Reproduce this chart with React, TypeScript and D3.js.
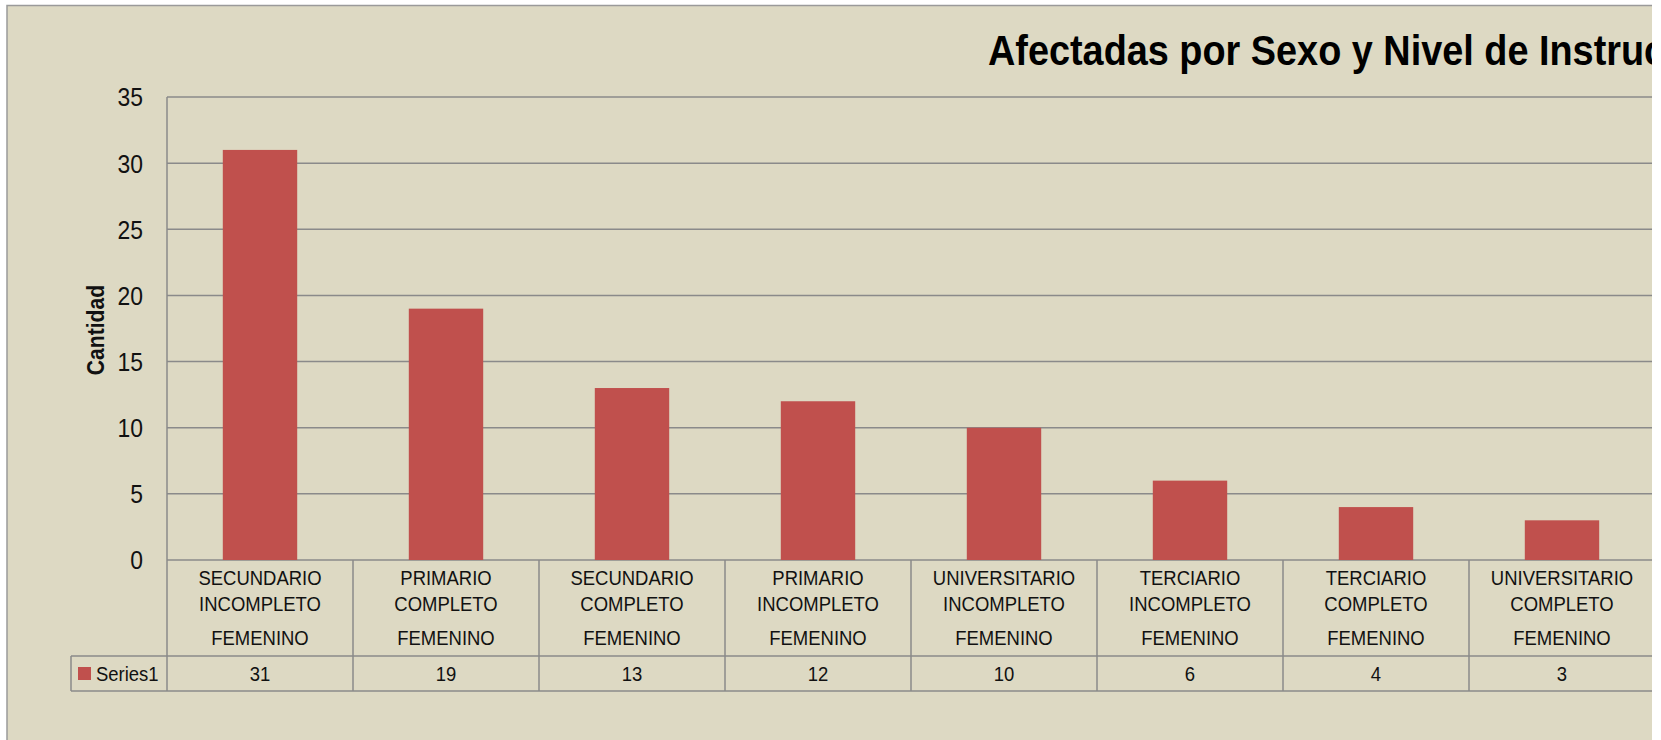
import React from 'react'
import * as d3 from 'd3'

const nivel = [
  ['SECUNDARIO', 'INCOMPLETO'],
  ['PRIMARIO', 'COMPLETO'],
  ['SECUNDARIO', 'COMPLETO'],
  ['PRIMARIO', 'INCOMPLETO'],
  ['UNIVERSITARIO', 'INCOMPLETO'],
  ['TERCIARIO', 'INCOMPLETO'],
  ['TERCIARIO', 'COMPLETO'],
  ['UNIVERSITARIO', 'COMPLETO'],
]
const sexo = ['FEMENINO', 'FEMENINO', 'FEMENINO', 'FEMENINO', 'FEMENINO', 'FEMENINO', 'FEMENINO', 'FEMENINO']
const values = [31, 19, 13, 12, 10, 6, 4, 3]
const seriesName = 'Series1'
const title = 'Afectadas por Sexo y Nivel de Instrucción'
const yTitle = 'Cantidad'

const W = 1652
const H = 740
const left = 167
const right = 1655
const top = 97
const bottom = 560
const rowTop = 656
const rowBottom = 691
const legendLeft = 71

const bg = '#DDD9C3'
const barColor = '#C0504D'
const grid = '#8a8a8a'
const font = '"Liberation Sans", Arial, sans-serif'
const sx = 0.88

const idx = d3.range(values.length)

const x = d3.scaleBand<number>().domain(idx).range([left, right]).paddingInner(0.6).paddingOuter(0.3)
const cell = d3.scaleBand<number>().domain(idx).range([left, right])
const y = d3.scaleLinear().domain([0, 35]).range([bottom, top])

// narrow text: Excel's font is a bit more condensed than Arial
const T = ({ x, y, size, anchor = 'middle', bold = false, rotate = 0, children }: any) => (
  <text
    transform={`translate(${x},${y}) rotate(${rotate}) scale(${sx},1)`}
    textAnchor={anchor}
    dy="0.36em"
    fontSize={size}
    fontWeight={bold ? 'bold' : 'normal'}
    fontFamily={font}
    fill="#111"
  >
    {children}
  </text>
)

const App = () => {
  return (
    <div style={{ position: 'fixed', left: 0, top: 0, width: 1661, height: H, background: '#fff' }}>
      <svg width={W} height={H} style={{ display: 'block' }}>
        <rect x={7} y={5.5} width={W} height={H} fill={bg} stroke="#9a9a9a" strokeWidth={1.5} />

        <text x={988} y={65} fontSize={43} fontWeight="bold" fontFamily={font} fill="#000"
          transform={`translate(${988 * (1 - sx)},0) scale(${sx},1)`}>
          {title}
        </text>

        {y.ticks(7).map((t) => (
          <g key={t}>
            <line x1={left} x2={W} y1={y(t)} y2={y(t)} stroke={grid} strokeWidth={1.5} />
            <T x={143} y={y(t)} size={26} anchor="end">{t}</T>
          </g>
        ))}

        <T x={95} y={330} size={24} bold rotate={-90}>{yTitle}</T>

        {values.map((v, i) => (
          <rect key={i} x={x(i)} width={x.bandwidth()} y={y(v)} height={y(0) - y(v)} fill={barColor} />
        ))}

        {/* data table */}
        <line x1={left} x2={left} y1={top} y2={rowBottom} stroke={grid} strokeWidth={1.5} />
        <line x1={legendLeft} x2={W} y1={rowTop} y2={rowTop} stroke={grid} strokeWidth={1.5} />
        <line x1={legendLeft} x2={W} y1={rowBottom} y2={rowBottom} stroke={grid} strokeWidth={1.5} />
        <line x1={legendLeft} x2={legendLeft} y1={rowTop} y2={rowBottom} stroke={grid} strokeWidth={1.5} />
        {idx.map((i) => {
          const cx = (cell(i) as number) + cell.bandwidth() / 2
          const r = (cell(i) as number) + cell.bandwidth()
          return (
            <g key={i}>
              <line x1={r} x2={r} y1={bottom} y2={rowBottom} stroke={grid} strokeWidth={1.5} />
              <T x={cx} y={577} size={21}>{nivel[i][0]}</T>
              <T x={cx} y={603} size={21}>{nivel[i][1]}</T>
              <T x={cx} y={637} size={21}>{sexo[i]}</T>
              <T x={cx} y={673} size={21}>{values[i]}</T>
            </g>
          )
        })}
        <rect x={78} y={667} width={13} height={13} fill={barColor} />
        <T x={96} y={673} size={21} anchor="start">{seriesName}</T>
      </svg>
    </div>
  )
}

export default App
